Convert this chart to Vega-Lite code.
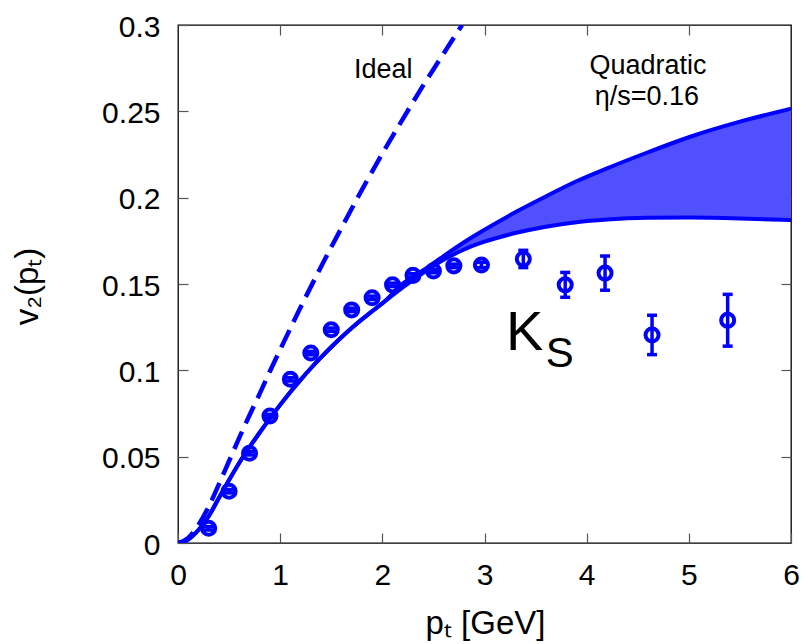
{
  "$schema": "https://vega.github.io/schema/vega-lite/v6.json",
  "width": 613,
  "height": 518,
  "autosize": "none",
  "padding": {"left": 178, "top": 25, "right": 17, "bottom": 101},
  "background": "white",
  "config": {
    "font": "Liberation Sans",
    "view": {"stroke": "black", "strokeWidth": 1.3},
    "axis": {
      "labelFont": "Liberation Sans",
      "titleFont": "Liberation Sans",
      "labelColor": "black",
      "titleColor": "black",
      "domain": false,
      "grid": false,
      "tickColor": "#555",
      "tickSize": -10,
      "tickWidth": 1.2,
      "labelFontSize": 30,
      "titleFontSize": 33,
      "titleFontWeight": "normal",
      "labelFlush": false,
      "labelOverlap": false
    }
  },
  "datasets": {
    "band": [
      {"pt": 0, "lo": 0, "hi": 0},
      {"pt": 0.1, "lo": 0.002, "hi": 0.002},
      {"pt": 0.2, "lo": 0.0075, "hi": 0.0075},
      {"pt": 0.3, "lo": 0.0155, "hi": 0.0155},
      {"pt": 0.4, "lo": 0.026, "hi": 0.026},
      {"pt": 0.5, "lo": 0.0365, "hi": 0.0365},
      {"pt": 0.6, "lo": 0.0465, "hi": 0.0465},
      {"pt": 0.7, "lo": 0.0555, "hi": 0.0555},
      {"pt": 0.8, "lo": 0.064, "hi": 0.064},
      {"pt": 0.9, "lo": 0.0722, "hi": 0.0722},
      {"pt": 1.0, "lo": 0.08, "hi": 0.08},
      {"pt": 1.1, "lo": 0.0875, "hi": 0.0875},
      {"pt": 1.2, "lo": 0.0945, "hi": 0.0945},
      {"pt": 1.3, "lo": 0.1012, "hi": 0.1012},
      {"pt": 1.4, "lo": 0.1075, "hi": 0.1075},
      {"pt": 1.5, "lo": 0.1135, "hi": 0.1135},
      {"pt": 1.6, "lo": 0.1192, "hi": 0.1192},
      {"pt": 1.7, "lo": 0.1245, "hi": 0.1245},
      {"pt": 1.8, "lo": 0.1295, "hi": 0.1295},
      {"pt": 1.9, "lo": 0.1342, "hi": 0.1342},
      {"pt": 2.0, "lo": 0.1388, "hi": 0.1388},
      {"pt": 2.2, "lo": 0.148, "hi": 0.1502},
      {"pt": 2.4, "lo": 0.1565, "hi": 0.158},
      {"pt": 2.6, "lo": 0.164, "hi": 0.1662},
      {"pt": 2.8, "lo": 0.17, "hi": 0.1742},
      {"pt": 3.0, "lo": 0.1745, "hi": 0.1814},
      {"pt": 3.3, "lo": 0.1795, "hi": 0.1915},
      {"pt": 3.6, "lo": 0.1832, "hi": 0.2007},
      {"pt": 3.9, "lo": 0.1858, "hi": 0.2095},
      {"pt": 4.2, "lo": 0.1873, "hi": 0.217},
      {"pt": 4.6, "lo": 0.1883, "hi": 0.2263},
      {"pt": 5.0, "lo": 0.1885, "hi": 0.235},
      {"pt": 5.5, "lo": 0.188, "hi": 0.244},
      {"pt": 6.0, "lo": 0.187, "hi": 0.2515}
    ],
    "ideal": [
      {"pt": 0, "v2": 0},
      {"pt": 0.1, "v2": 0.003},
      {"pt": 0.2, "v2": 0.0105},
      {"pt": 0.3, "v2": 0.021},
      {"pt": 0.4, "v2": 0.034},
      {"pt": 0.5, "v2": 0.0475},
      {"pt": 0.6, "v2": 0.061},
      {"pt": 0.7, "v2": 0.074},
      {"pt": 0.8, "v2": 0.0865},
      {"pt": 0.9, "v2": 0.0995},
      {"pt": 1.0, "v2": 0.112},
      {"pt": 1.2, "v2": 0.1365},
      {"pt": 1.4, "v2": 0.16},
      {"pt": 1.6, "v2": 0.1825},
      {"pt": 1.8, "v2": 0.2045},
      {"pt": 2.0, "v2": 0.2255},
      {"pt": 2.2, "v2": 0.2455},
      {"pt": 2.4, "v2": 0.265},
      {"pt": 2.6, "v2": 0.2835},
      {"pt": 2.78, "v2": 0.3}
    ],
    "points": [
      {"pt": 0.3, "v2": 0.0085, "lo": 0.0075, "hi": 0.0095},
      {"pt": 0.5, "v2": 0.03, "lo": 0.029, "hi": 0.031},
      {"pt": 0.7, "v2": 0.052, "lo": 0.051, "hi": 0.053},
      {"pt": 0.9, "v2": 0.0735, "lo": 0.0725, "hi": 0.0745},
      {"pt": 1.1, "v2": 0.0948, "lo": 0.0938, "hi": 0.0958},
      {"pt": 1.3, "v2": 0.11, "lo": 0.109, "hi": 0.111},
      {"pt": 1.5, "v2": 0.1235, "lo": 0.1225, "hi": 0.1245},
      {"pt": 1.7, "v2": 0.135, "lo": 0.134, "hi": 0.136},
      {"pt": 1.9, "v2": 0.142, "lo": 0.141, "hi": 0.143},
      {"pt": 2.1, "v2": 0.1495, "lo": 0.1485, "hi": 0.1505},
      {"pt": 2.3, "v2": 0.155, "lo": 0.154, "hi": 0.156},
      {"pt": 2.5, "v2": 0.1575, "lo": 0.1565, "hi": 0.1585},
      {"pt": 2.7, "v2": 0.1605, "lo": 0.1595, "hi": 0.1615},
      {"pt": 2.97, "v2": 0.161, "lo": 0.1595, "hi": 0.1625},
      {"pt": 3.38, "v2": 0.1645, "lo": 0.1595, "hi": 0.1695},
      {"pt": 3.79, "v2": 0.1495, "lo": 0.1423, "hi": 0.1567},
      {"pt": 4.18, "v2": 0.1563, "lo": 0.1464, "hi": 0.1662},
      {"pt": 4.64, "v2": 0.1205, "lo": 0.1091, "hi": 0.1319},
      {"pt": 5.38, "v2": 0.129, "lo": 0.114, "hi": 0.144}
    ],
    "notes": [
      {"pt": 2.01, "v2": 0.2694, "label": "Ideal"},
      {"pt": 4.6, "v2": 0.2715, "label": "Quadratic"},
      {"pt": 4.59, "v2": 0.2535, "label": "η/s=0.16"}
    ],
    "kmain": [{"pt": 3.21, "v2": 0.1116, "label": "K"}],
    "ksub": [{"pt": 3.6, "v2": 0.102, "label": "S"}]
  },
  "layer": [
    {
      "data": {"name": "band"},
      "mark": {"type": "area", "color": "#5050ff", "opacity": 1, "interpolate": "monotone", "clip": true},
      "encoding": {
        "x": {"field": "pt", "type": "quantitative", "scale": {"domain": [0, 6], "nice": false, "zero": false},
          "axis": {"orient": "bottom", "values": [0, 1, 2, 3, 4, 5, 6], "format": "d", "labelPadding": 27,
            "title": "pₜ [GeV]", "titleX": 307, "titleY": 90, "titleBaseline": "alphabetic", "titleAlign": "center", "titleAnchor": null}},
        "y": {"field": "lo", "type": "quantitative", "scale": {"domain": [0, 0.3], "nice": false, "zero": false},
          "axis": {"orient": "left", "values": [0, 0.05, 0.1, 0.15, 0.2, 0.25, 0.3], "format": ".2~f", "labelPadding": 28, "labelBaseline": "middle", "labelOffset": 2,
            "title": "v₂(pₜ)", "titleAngle": 270, "titleX": -141, "titleY": 261, "titleBaseline": "alphabetic", "titleAlign": "center", "titleAnchor": null}},
        "y2": {"field": "hi"}
      }
    },
    {
      "data": {"name": "band"},
      "mark": {"type": "line", "color": "#0000ff", "strokeWidth": 4, "interpolate": "monotone", "clip": true},
      "encoding": {
        "x": {"field": "pt", "type": "quantitative", "scale": {"domain": [0, 6], "nice": false, "zero": false},
          "axis": {"orient": "top", "values": [1, 2, 3, 4, 5], "labels": false, "title": null}},
        "y": {"field": "lo", "type": "quantitative", "scale": {"domain": [0, 0.3], "nice": false, "zero": false},
          "axis": {"orient": "right", "values": [0.05, 0.1, 0.15, 0.2, 0.25], "labels": false, "title": null}}
      }
    },
    {
      "data": {"name": "band"},
      "mark": {"type": "line", "color": "#0000ff", "strokeWidth": 4, "interpolate": "monotone", "clip": true},
      "encoding": {
        "x": {"field": "pt", "type": "quantitative", "scale": {"domain": [0, 6], "nice": false, "zero": false}, "axis": null},
        "y": {"field": "hi", "type": "quantitative", "scale": {"domain": [0, 0.3], "nice": false, "zero": false}, "axis": null}
      }
    },
    {
      "data": {"name": "ideal"},
      "mark": {"type": "line", "color": "#0000ff", "strokeWidth": 4.5, "strokeDash": [19, 9], "interpolate": "monotone", "clip": true},
      "encoding": {
        "x": {"field": "pt", "type": "quantitative", "scale": {"domain": [0, 6], "nice": false, "zero": false}, "axis": null},
        "y": {"field": "v2", "type": "quantitative", "scale": {"domain": [0, 0.3], "nice": false, "zero": false}, "axis": null}
      }
    },
    {
      "data": {"name": "points"},
      "mark": {"type": "rule", "color": "#0000ff", "strokeWidth": 3.5},
      "encoding": {
        "x": {"field": "pt", "type": "quantitative", "scale": {"domain": [0, 6], "nice": false, "zero": false}, "axis": null},
        "y": {"field": "lo", "type": "quantitative", "scale": {"domain": [0, 0.3], "nice": false, "zero": false}, "axis": null},
        "y2": {"field": "hi"}
      }
    },
    {
      "data": {"name": "points"},
      "mark": {"type": "tick", "orient": "horizontal", "color": "#0000ff", "size": 10, "thickness": 3.5, "opacity": 1},
      "encoding": {
        "x": {"field": "pt", "type": "quantitative", "scale": {"domain": [0, 6], "nice": false, "zero": false}, "axis": null},
        "y": {"field": "lo", "type": "quantitative", "scale": {"domain": [0, 0.3], "nice": false, "zero": false}, "axis": null}
      }
    },
    {
      "data": {"name": "points"},
      "mark": {"type": "tick", "orient": "horizontal", "color": "#0000ff", "size": 10, "thickness": 3.5, "opacity": 1},
      "encoding": {
        "x": {"field": "pt", "type": "quantitative", "scale": {"domain": [0, 6], "nice": false, "zero": false}, "axis": null},
        "y": {"field": "hi", "type": "quantitative", "scale": {"domain": [0, 0.3], "nice": false, "zero": false}, "axis": null}
      }
    },
    {
      "data": {"name": "points"},
      "mark": {"type": "point", "shape": "circle", "filled": false, "color": "#0000ff", "size": 170, "strokeWidth": 4, "opacity": 1},
      "encoding": {
        "x": {"field": "pt", "type": "quantitative", "scale": {"domain": [0, 6], "nice": false, "zero": false}, "axis": null},
        "y": {"field": "v2", "type": "quantitative", "scale": {"domain": [0, 0.3], "nice": false, "zero": false}, "axis": null}
      }
    },
    {
      "data": {"name": "notes"},
      "mark": {"type": "text", "font": "Liberation Sans", "fontSize": 27, "color": "black", "align": "center", "baseline": "alphabetic"},
      "encoding": {
        "x": {"field": "pt", "type": "quantitative", "scale": {"domain": [0, 6], "nice": false, "zero": false}, "axis": null},
        "y": {"field": "v2", "type": "quantitative", "scale": {"domain": [0, 0.3], "nice": false, "zero": false}, "axis": null},
        "text": {"field": "label"}
      }
    },
    {
      "data": {"name": "kmain"},
      "mark": {"type": "text", "font": "Liberation Sans", "fontSize": 56, "color": "black", "align": "left", "baseline": "alphabetic"},
      "encoding": {
        "x": {"field": "pt", "type": "quantitative", "scale": {"domain": [0, 6], "nice": false, "zero": false}, "axis": null},
        "y": {"field": "v2", "type": "quantitative", "scale": {"domain": [0, 0.3], "nice": false, "zero": false}, "axis": null},
        "text": {"field": "label"}
      }
    },
    {
      "data": {"name": "ksub"},
      "mark": {"type": "text", "font": "Liberation Sans", "fontSize": 42, "color": "black", "align": "left", "baseline": "alphabetic"},
      "encoding": {
        "x": {"field": "pt", "type": "quantitative", "scale": {"domain": [0, 6], "nice": false, "zero": false}, "axis": null},
        "y": {"field": "v2", "type": "quantitative", "scale": {"domain": [0, 0.3], "nice": false, "zero": false}, "axis": null},
        "text": {"field": "label"}
      }
    }
  ],
  "resolve": {"axis": {"x": "independent", "y": "independent"}}
}
